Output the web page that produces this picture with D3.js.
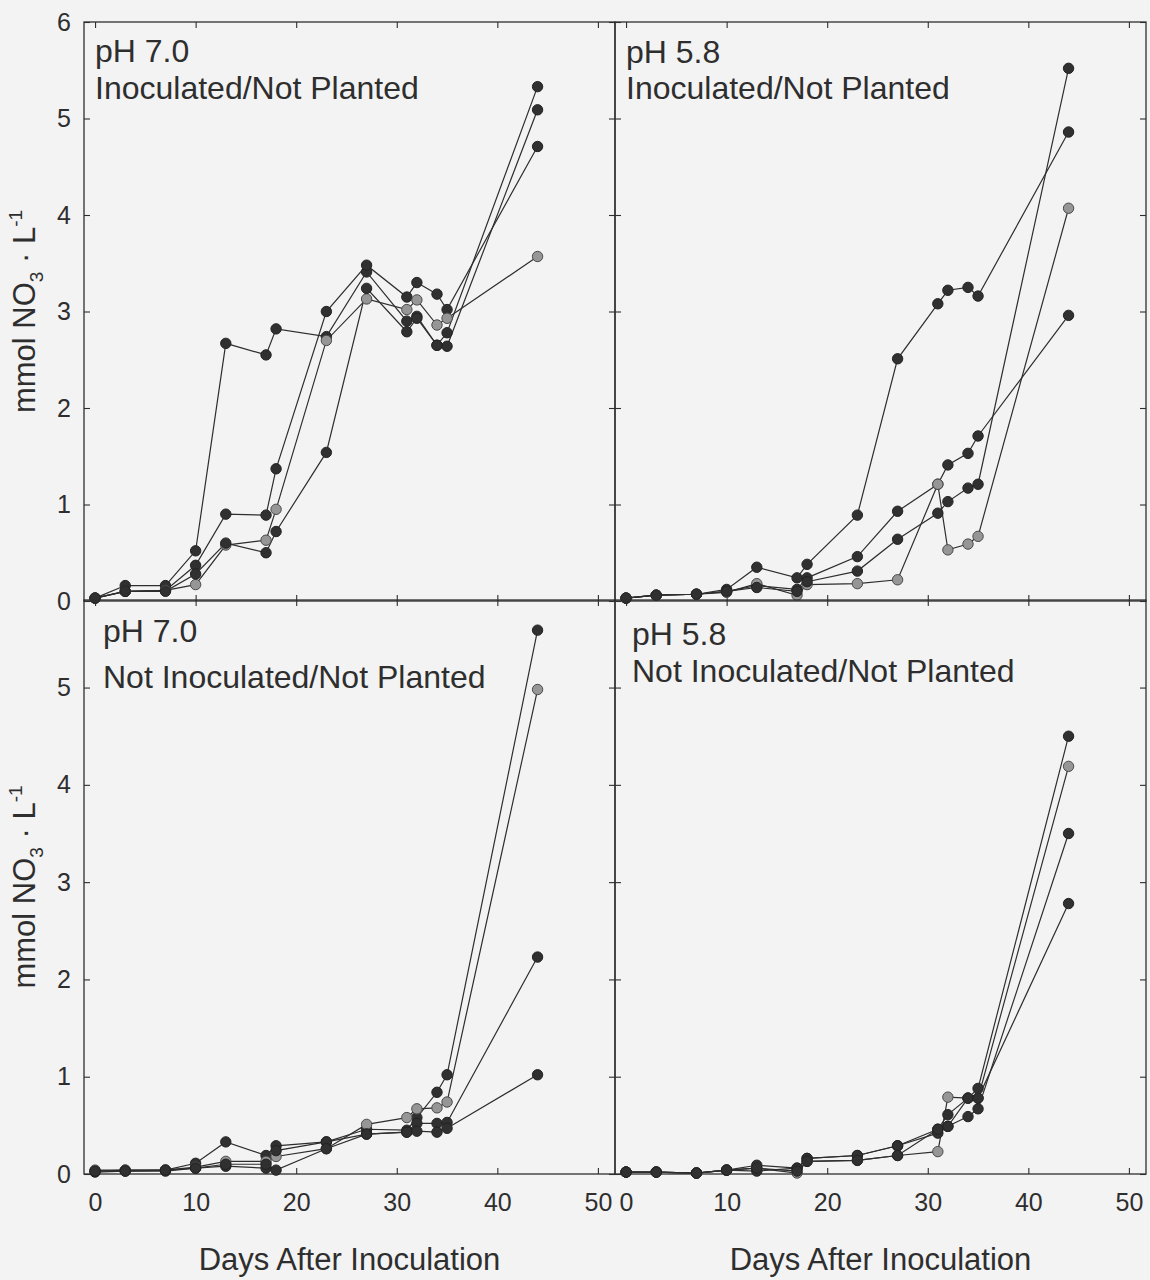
<!DOCTYPE html>
<html>
<head>
<meta charset="utf-8">
<script src="https://cdn.jsdelivr.net/npm/d3@7"></script>
<style>
  body { margin: 0; background: #f3f3f3; }
  svg { display: block; font-family: Arial, "Liberation Sans", sans-serif; }
</style>
</head>
<body>
<svg width="1150" height="1280"></svg>
<script>
// sampling days (shared by every series)
const days = [0, 3, 7, 10, 13, 17, 18, 23, 27, 31, 32, 34, 35, 44];
const xTicks = [0, 10, 20, 30, 40, 50];
const yTicksTop = [0, 1, 2, 3, 4, 5, 6];
const yTicksBottom = [0, 1, 2, 3, 4, 5];

// mmol NO3 / L, four replicates per panel
const inocPh70 = [
  [0.03, 0.16, 0.16, 0.52, 2.67, 2.55, 2.82, 2.74, 3.41, 2.90, 2.95, 2.65, 2.64, 5.09],
  [0.03, 0.10, 0.11, 0.37, 0.90, 0.89, 1.37, 3.00, 3.48, 3.15, 3.30, 3.18, 3.02, 4.71],
  [0.03, 0.10, 0.11, 0.17, 0.58, 0.63, 0.95, 2.70, 3.13, 3.02, 3.12, 2.86, 2.93, 3.57],
  [0.03, 0.10, 0.10, 0.28, 0.60, 0.50, 0.72, 1.54, 3.24, 2.79, 2.93, 2.65, 2.78, 5.33]
];
const inocPh58 = [
  [0.03, 0.06, 0.07, 0.12, 0.35, 0.24, 0.38, 0.89, 2.51, 3.08, 3.22, 3.25, 3.16, 4.86],
  [0.03, 0.06, 0.07, 0.10, 0.16, 0.12, 0.24, 0.46, 0.93, 1.21, 1.41, 1.53, 1.71, 2.96],
  [0.03, 0.06, 0.07, 0.09, 0.18, 0.06, 0.17, 0.18, 0.22, 1.21, 0.53, 0.59, 0.67, 4.07],
  [0.03, 0.06, 0.07, 0.10, 0.14, 0.10, 0.20, 0.31, 0.64, 0.91, 1.03, 1.17, 1.21, 5.52]
];
const notInocPh70 = [
  [0.03, 0.04, 0.04, 0.11, 0.33, 0.19, 0.29, 0.33, 0.46, 0.45, 0.58, 0.84, 1.02, 5.59],
  [0.04, 0.04, 0.04, 0.07, 0.13, 0.13, 0.18, 0.26, 0.51, 0.58, 0.67, 0.68, 0.74, 4.98],
  [0.02, 0.03, 0.03, 0.06, 0.08, 0.06, 0.24, 0.33, 0.41, 0.43, 0.52, 0.52, 0.53, 2.23],
  [0.03, 0.03, 0.04, 0.06, 0.10, 0.10, 0.04, 0.26, 0.41, 0.43, 0.44, 0.43, 0.47, 1.02]
];
const notInocPh58 = [
  [0.02, 0.02, 0.01, 0.04, 0.09, 0.06, 0.16, 0.19, 0.29, 0.46, 0.61, 0.78, 0.88, 4.50],
  [0.02, 0.02, 0.01, 0.04, 0.06, 0.01, 0.13, 0.14, 0.19, 0.23, 0.79, 0.78, 0.78, 4.19],
  [0.02, 0.02, 0.01, 0.04, 0.03, 0.06, 0.16, 0.19, 0.29, 0.42, 0.49, 0.59, 0.67, 3.50],
  [0.02, 0.02, 0.01, 0.04, 0.06, 0.03, 0.13, 0.14, 0.19, 0.46, 0.49, 0.78, 0.78, 2.78]
];

const svg = d3.select("svg");
const ink = "#2e2e2e";

const cols = [[84, 615], [615, 1146]];
const rows = [
  { range: [601, 22], max: 6, ticks: yTicksTop },
  { range: [1174, 600], max: 5.9, ticks: yTicksBottom }
];

const panels = [
  { series: inocPh70, ph: "pH 7.0", label: "Inoculated/Not Planted", grey: 2, col: 0, row: 0, tx: 95, ty: [62, 99] },
  { series: inocPh58, ph: "pH 5.8", label: "Inoculated/Not Planted", grey: 2, col: 1, row: 0, tx: 626, ty: [63, 99] },
  { series: notInocPh70, ph: "pH 7.0", label: "Not Inoculated/Not Planted", grey: 1, col: 0, row: 1, tx: 103, ty: [642, 688] },
  { series: notInocPh58, ph: "pH 5.8", label: "Not Inoculated/Not Planted", grey: 1, col: 1, row: 1, tx: 632, ty: [645, 682] }
];

panels.forEach(p => {
  const [x0, x1] = cols[p.col];
  const row = rows[p.row];

  const x = d3.scaleLinear().domain([-1.1, 51.7]).range([x0, x1]);
  const y = d3.scaleLinear().domain([0, row.max]).range(row.range);

  const g = svg.append("g");

  // inward ticks on all four sides
  const tickStyle = sel => {
    sel.select(".domain").remove();
    sel.selectAll(".tick line").attr("stroke", ink).attr("stroke-width", 1.1);
    sel.selectAll("text").attr("fill", ink).style("font-size", "25px");
  };

  const bottom = g.append("g")
    .attr("transform", `translate(0,${row.range[0]})`)
    .call(d3.axisBottom(x).tickValues(xTicks).tickSize(-6).tickPadding(19).tickFormat(d3.format("d")))
    .call(tickStyle);
  if (p.row === 0) bottom.selectAll("text").remove();

  g.append("g")
    .attr("transform", `translate(0,${row.range[1]})`)
    .call(d3.axisTop(x).tickValues(xTicks).tickSize(-6).tickFormat(""))
    .call(tickStyle);

  const left = g.append("g")
    .attr("transform", `translate(${x0},0)`)
    .call(d3.axisLeft(y).tickValues(row.ticks).tickSize(-6).tickPadding(13).tickFormat(d3.format("d")))
    .call(tickStyle);
  if (p.col === 1) left.selectAll("text").remove();

  g.append("g")
    .attr("transform", `translate(${x1},0)`)
    .call(d3.axisRight(y).tickValues(row.ticks).tickSize(-6).tickFormat(""))
    .call(tickStyle);

  // frame
  g.append("rect")
    .attr("x", x0).attr("y", row.range[1])
    .attr("width", x1 - x0).attr("height", row.range[0] - row.range[1])
    .attr("fill", "none").attr("stroke", ink).attr("stroke-width", 1.3);

  const line = d3.line().x((d, i) => x(days[i])).y(d => y(d));

  p.series.forEach(vals => {
    g.append("path")
      .datum(vals)
      .attr("d", line)
      .attr("fill", "none")
      .attr("stroke", ink)
      .attr("stroke-width", 1.2);
  });

  p.series.forEach((vals, si) => {
    const isGrey = si === p.grey;
    g.selectAll(null)
      .data(vals)
      .enter()
      .append("circle")
      .attr("cx", (d, i) => x(days[i]))
      .attr("cy", d => y(d))
      .attr("r", 5.2)
      .attr("fill", isGrey ? "#969696" : "#303030")
      .attr("stroke", isGrey ? "#4a4a4a" : "#222")
      .attr("stroke-width", 1);
  });

  // panel text
  g.append("text")
    .attr("x", p.tx).attr("y", p.ty[0])
    .attr("fill", ink).style("font-size", "32px")
    .text(p.ph);
  g.append("text")
    .attr("x", p.tx).attr("y", p.ty[1])
    .attr("fill", ink).style("font-size", "32px")
    .text(p.label);

  if (p.row === 1) {
    g.append("text")
      .attr("x", (x0 + x1) / 2)
      .attr("y", 1270)
      .attr("text-anchor", "middle")
      .attr("fill", ink).style("font-size", "31px")
      .text("Days After Inoculation");
  }

  if (p.col === 0) {
    const yl = g.append("text")
      .attr("transform", `translate(35,${(row.range[0] + row.range[1]) / 2}) rotate(-90)`)
      .attr("text-anchor", "middle")
      .attr("fill", ink).style("font-size", "31px");
    yl.append("tspan").text("mmol NO");
    yl.append("tspan").attr("dy", 8).style("font-size", "19px").text("3");
    yl.append("tspan").attr("dy", -8).text(" \u00b7 L");
    yl.append("tspan").attr("dy", -13).style("font-size", "19px").text("-1");
  }
});
</script>
</body>
</html>
